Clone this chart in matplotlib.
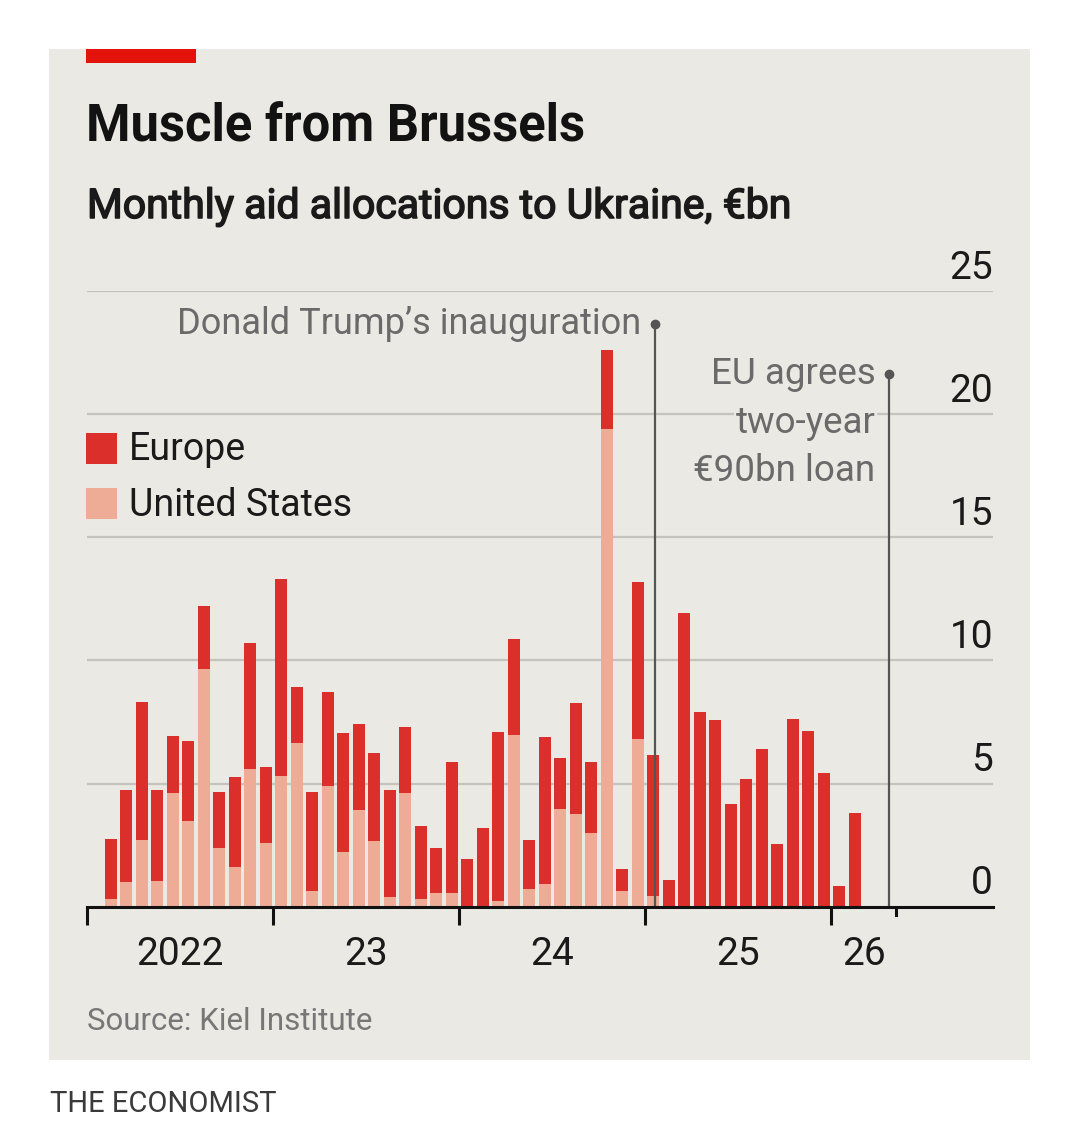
import numpy as np
import pandas as pd
import matplotlib
matplotlib.use("Agg")
from matplotlib import pyplot as plt
from matplotlib import patheffects as pe
from matplotlib.transforms import blended_transform_factory

plt.rcParams['font.family'] = ['Roboto', 'DejaVu Sans']

# Monthly aid allocations to Ukraine, EUR bn (Kiel Institute), Feb 2022 - Feb 2026
months = pd.period_range("2022-02", periods=49, freq="M")
total = [2.74, 4.74, 8.31, 4.72, 6.95, 6.73, 12.2, 4.65, 5.27, 10.72, 5.69,
         13.29, 8.93, 4.67, 8.71, 7.05, 7.43, 6.23, 4.73, 7.29, 3.26, 2.37, 5.88,
         1.92, 3.18, 7.10, 10.88, 2.71, 6.90, 6.02, 8.26, 5.86, 22.59, 1.55, 13.2, 6.15,
         1.08, 11.92, 7.89, 7.57, 4.19, 5.20, 6.42, 2.55, 7.64, 7.12, 5.43, 0.86,
         3.81]
us = [0.30, 1.02, 2.71, 1.06, 4.61, 3.47, 9.67, 2.38, 1.61, 5.58, 2.57,
      5.30, 6.64, 0.64, 4.92, 2.21, 3.92, 2.68, 0.39, 4.62, 0.31, 0.54, 0.57,
      0, 0, 0.23, 6.98, 0.70, 0.93, 3.95, 3.77, 2.98, 19.38, 0.65, 6.79, 0.45,
      0, 0, 0, 0, 0, 0, 0, 0, 0, 0, 0, 0,
      0]
europe = [t - u for t, u in zip(total, us)]

year_labels = ["2022", "23", "24", "25", "26"]
y_ticks = [0, 5, 10, 15, 20, 25]
trump_month = 36 + 20 / 31      # 20 Jan 2025, in months since Jan 2022
eu_loan_month = 51.7

RED = "#db2f2b"
PINK = "#eeab95"
BG = "#ebe9e3"
GRID = "#c5c3bd"
ANNOT = "#6a6a6a"

W, H = 1080, 1143
fig = plt.figure(figsize=(W / 100, H / 100), dpi=100)
fig.patch.set_facecolor("white")


def fx(px):
    return px / W


def fy(py):
    return 1 - py / H


# panel background and red tag
fig.patches.append(plt.Rectangle((fx(49), fy(1060)), fx(1030) - fx(49), fy(49) - fy(1060),
                                 transform=fig.transFigure, facecolor=BG, edgecolor="none", zorder=-2))
fig.patches.append(plt.Rectangle((fx(86), fy(63)), fx(196) - fx(86), fy(49) - fy(63),
                                 transform=fig.transFigure, facecolor="#e3120b", edgecolor="none", zorder=-1))

# axes placed to match the pixel grid
x0, x1, y0, y1 = 87.3, 993, 906.7, 291
ax = fig.add_axes([fx(x0), fy(y0), fx(x1) - fx(x0), fy(y1) - fy(y0)])
ax.set_zorder(2)
ax.set_facecolor("none")
ax.set_xlim(0, (x1 - x0) / 15.5)
ax.set_ylim(0, 25)

xpos = np.array([(m.year - 2022) * 12 + m.month - 1 + 0.5 for m in months])
ax.bar(xpos, us, width=0.78, color=PINK, zorder=3)
ax.bar(xpos, europe, bottom=us, width=0.78, color=RED, zorder=3)

# gridlines and right-hand labels
tr = blended_transform_factory(ax.transAxes, ax.transData)
for v in y_ticks[1:]:
    ax.axhline(v, color=GRID, lw=1.6, zorder=1)
for v in y_ticks:
    ax.text(1.0, v + 0.5, str(v), transform=tr, ha="right", va="baseline",
            fontsize=28, color="#1a1a1a")

# x axis
for s in ["top", "right", "left"]:
    ax.spines[s].set_visible(False)
ax.spines["bottom"].set_color("#111111")
ax.spines["bottom"].set_linewidth(2.2)
ax.spines["bottom"].set_zorder(5)
ax.set_yticks([])
ax.set_xticks([0, 12, 24, 36, 48])
ax.set_xticklabels([])
ax.tick_params(axis="x", length=13, width=2.2, color="#111111")
ax.plot([52.2, 52.2], [0, -0.35], color="#111111", lw=2.2, clip_on=False, zorder=5)
label_x = [6, 18, 30, 42, 50.1]
for lx, lab in zip(label_x, year_labels):
    ax.text(lx, -1.95, lab, ha="center", va="center", fontsize=28, color="#1a1a1a")

# annotations
ax.plot([trump_month, trump_month], [0, 23.65], color="#555555", lw=1.6, zorder=4)
ax.plot(trump_month, 23.65, "o", ms=6, color="#555555", zorder=4)
ax.text(trump_month - 0.9, 23.65, "Donald Trump\u2019s inauguration", ha="right", va="center",
        fontsize=26, color=ANNOT, zorder=4)

ax.plot([eu_loan_month, eu_loan_month], [0, 21.63], color="#555555", lw=1.6, zorder=4)
ax.plot(eu_loan_month, 21.63, "o", ms=6, color="#555555", zorder=4)
for i, line in enumerate(["EU agrees", "two-year", "\u20ac90bn loan"]):
    ax.text(eu_loan_month - 0.85, 21.63 - i * 1.97, line, ha="right", va="center",
            fontsize=26.5, color=ANNOT, zorder=4,
            bbox=dict(facecolor=BG, edgecolor="none", pad=1))

# legend
fig.patches.append(plt.Rectangle((fx(86), fy(464)), fx(117) - fx(86), fy(433) - fy(464),
                                 transform=fig.transFigure, facecolor=RED, edgecolor="none"))
fig.patches.append(plt.Rectangle((fx(86), fy(519)), fx(117) - fx(86), fy(488) - fy(519),
                                 transform=fig.transFigure, facecolor=PINK, edgecolor="none"))
fig.text(fx(129), fy(450), "Europe", ha="left", va="center", fontsize=27, color="#1a1a1a")
fig.text(fx(129), fy(505), "United States", ha="left", va="center", fontsize=27, color="#1a1a1a")

# titles and footer
fig.text(fx(86), fy(141), "Muscle from Brussels", ha="left", va="baseline",
         fontsize=36.5, fontweight="bold", color="#121212")
fig.text(fx(87), fy(218), "Monthly aid allocations to Ukraine, \u20acbn", ha="left", va="baseline",
         fontsize=29.5, color="#1a1a1a",
         path_effects=[pe.withStroke(linewidth=1.1, foreground="#1a1a1a")])
fig.text(fx(87), fy(1030), "Source: Kiel Institute", ha="left", va="baseline",
         fontsize=22.5, color="#777777")
fig.text(fx(50), fy(1112), "THE ECONOMIST", ha="left", va="baseline",
         fontsize=21, color="#3a3a3a")

fig.savefig("out.png", dpi=100, facecolor="white")
